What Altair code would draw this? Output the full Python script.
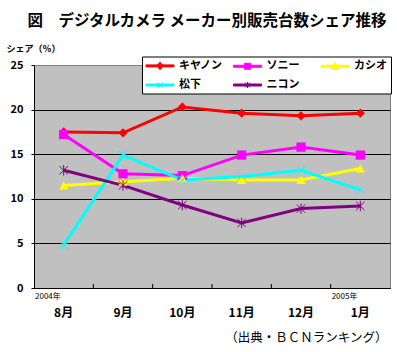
import altair as alt
import pandas as pd

FONT = "Noto Sans CJK JP"

months = ["8月", "9月", "10月", "11月", "12月", "1月"]
year_labels = ["2004年", "", "", "", "", "2005年"]
makers = ["キヤノン", "ソニー", "カシオ", "松下", "ニコン"]
canon = [17.5, 17.4, 20.3, 19.6, 19.3, 19.6]
sony = [17.2, 12.8, 12.6, 14.9, 15.8, 14.9]
casio = [11.5, 11.9, 12.3, 12.1, 12.1, 13.4]
matsushita = [4.8, 14.9, 12.1, 12.5, 13.2, 11.0]
nikon = [13.2, 11.5, 9.3, 7.3, 8.9, 9.2]
colors = ["#FF0000", "#FF00FF", "#FFFF00", "#00FFFF", "#800080"]

plot_shapes = [
    "diamond",
    "square",
    "triangle-up",
    "M-1,-1L1,1M1,-1L-1,1",
    "M-1,-1L1,1M1,-1L-1,1M0,-1.25L0,1.25",
]
LINE = "M-1,-0.2L4.6,-0.2L4.6,0.2L-1,0.2Z "
legend_shapes = [
    LINE + "M1.8,-0.75L2.45,0L1.8,0.75L1.15,0Z",
    LINE + "M1.2,-0.6L2.4,-0.6L2.4,0.6L1.2,0.6Z",
    LINE + "M1.8,-0.75L2.55,0.6L1.05,0.6Z",
    LINE + "M1.3,-0.5L2.3,0.5M2.3,-0.5L1.3,0.5",
    LINE + "M1.3,-0.5L2.3,0.5M2.3,-0.5L1.3,0.5M1.8,-0.6L1.8,0.6",
]

rows = []
for mk, vals in zip(makers, [canon, sony, casio, matsushita, nikon]):
    for i, (mo, v) in enumerate(zip(months, vals)):
        rows.append({"maker": mk, "month": mo, "idx": i, "share": v})
df = pd.DataFrame(rows)
month_df = pd.DataFrame({"month": months, "year": year_labels})

# legend is filled column by column (2 rows): reorder so it reads row by row
leg_order = [0, 3, 1, 4, 2]
leg_domain = [makers[i] for i in leg_order]
leg_colors = [colors[i] for i in leg_order]
leg_shapes = [legend_shapes[i] for i in leg_order]

W, H = 356, 223

xscale = alt.Scale(type="band", domain=months, paddingInner=0, paddingOuter=0)
yscale = alt.Scale(domain=[0, 25], nice=False, zero=True)
cscale = alt.Scale(domain=makers, range=colors)

x_axis = alt.Axis(
    title="（出典・ＢＣＮランキング）",
    titleFont=FONT, titleFontSize=12.5, titleFontWeight="normal", titleColor="black",
    titleAngle=0, titleAlign="right", titleBaseline="middle",
    titleX=353, titleY=49,
    labelFont=FONT, labelFontSize=12, labelFontWeight="bold", labelColor="black",
    labelPadding=19, ticks=False, domainColor="black", domainWidth=1,
    labelAngle=0, grid=False,
)
y_axis = alt.Axis(
    title="シェア（％）",
    titleFont=FONT, titleFontSize=9, titleFontWeight="bold", titleColor="black",
    titleAngle=0, titleAlign="left", titleBaseline="middle",
    titleX=-28, titleY=-17,
    values=[0, 5, 10, 15, 20, 25],
    labelFont=FONT, labelFontSize=11, labelFontWeight="bold", labelColor="black",
    labelPadding=8, tickSize=3, tickColor="black", domainColor="black",
    grid=True,
    gridColor={"condition": {"test": "datum.value >= 25", "value": "#808080"}, "value": "black"},
    gridWidth=1,
)

x_enc = alt.X("month:N", scale=xscale, axis=x_axis, bandPosition=0.5)
y_enc = alt.Y("share:Q", scale=yscale, axis=y_axis)

base = alt.Chart(df)

lines = base.mark_line(strokeWidth=3).encode(
    x=x_enc, y=y_enc,
    color=alt.Color("maker:N", scale=cscale, legend=None),
    order=alt.Order("idx:Q"),
)

pshape = alt.Shape("maker:N", scale=alt.Scale(domain=makers, range=plot_shapes), legend=None)

filled_pts = base.transform_filter(
    alt.FieldOneOfPredicate(field="maker", oneOf=makers[:3])
).mark_point(filled=True, size=85, opacity=1, strokeWidth=0).encode(
    x=x_enc, y=y_enc,
    color=alt.Color("maker:N", scale=cscale, legend=None),
    shape=pshape,
)
open_pts = base.transform_filter(
    alt.FieldOneOfPredicate(field="maker", oneOf=makers[3:])
).mark_point(filled=False, size=70, opacity=1, strokeWidth=1).encode(
    x=x_enc, y=y_enc,
    color=alt.Color("maker:N", scale=cscale, legend=None),
    shape=pshape,
)

leg = alt.Legend(
    title=None, orient="none", legendX=108, legendY=-8.5,
    columns=3, gridAlign="all", columnPadding=7.5, rowPadding=6.5,
    padding=3.5, fillColor="white", strokeColor="black",
    symbolSize=100, symbolOpacity=1, symbolStrokeWidth=1,
    labelFont=FONT, labelFontSize=11, labelFontWeight="bold", labelColor="black",
    labelOffset=22.5, labelLimit=200,
)
lcscale = alt.Scale(domain=leg_domain, range=leg_colors)
legend_layer = base.mark_point(filled=True, opacity=0).encode(
    x=x_enc, y=y_enc,
    shape=alt.Shape("maker:N", scale=alt.Scale(domain=leg_domain, range=leg_shapes), legend=leg),
    fill=alt.Fill("maker:N", scale=lcscale, legend=leg),
    stroke=alt.Stroke("maker:N", scale=lcscale, legend=leg),
)

ticks = alt.Chart(month_df).transform_filter("datum.month != '8月'").mark_rule(
    color="black", strokeWidth=1
).encode(
    x=alt.X("month:N", scale=xscale, bandPosition=0),
    y=alt.datum(0),
    y2=alt.datum(0.45),
)

years = alt.Chart(month_df).mark_text(
    align="left", baseline="middle", font=FONT, fontSize=8, color="black", dx=1
).encode(
    x=alt.X("month:N", scale=xscale, bandPosition=0),
    y=alt.value(H + 9),
    text="year:N",
)

chart = alt.layer(lines, filled_pts, open_pts, ticks, years, legend_layer).resolve_scale(
    shape="independent", fill="independent", stroke="independent"
).properties(
    width=W, height=H,
    autosize=alt.AutoSizeParams(type="none"),
    padding={"left": 34, "top": 65, "right": 7, "bottom": 64},
    title=alt.TitleParams(
        text="図　デジタルカメラ メーカー別販売台数シェア推移",
        font=FONT, fontSize=15.5, fontWeight="bold", color="black",
        anchor="middle", frame="group", dx=-5, offset=15,
    ),
    background="white",
).configure_view(
    fill="#C0C0C0", stroke="#808080", strokeWidth=1,
)

chart.save("out.html", embed_options={"renderer": "svg", "actions": False})
